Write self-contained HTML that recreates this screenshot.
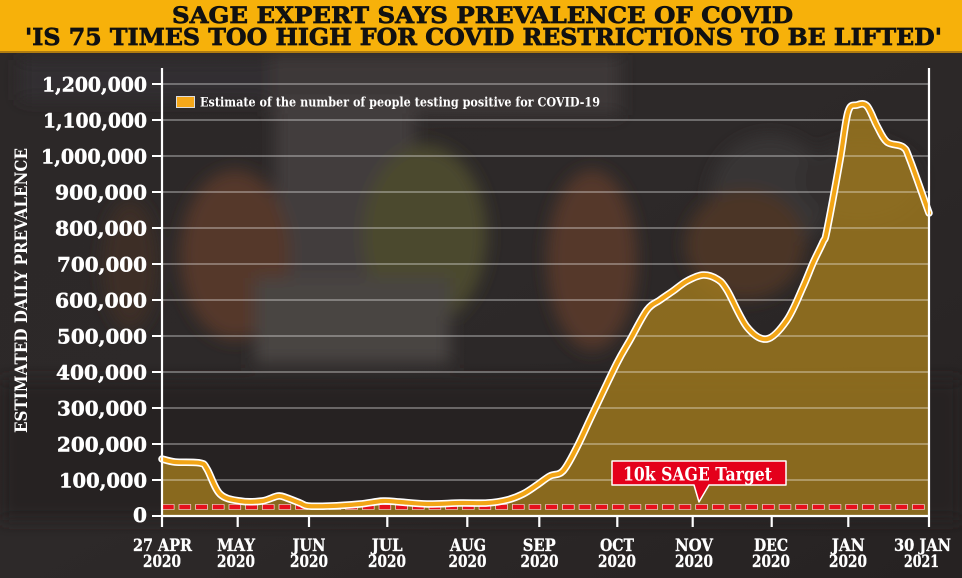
<!DOCTYPE html>
<html><head><meta charset="utf-8"><style>
html,body{margin:0;padding:0;background:#2a2626;}
svg{display:block;}
text{font-family:"DejaVu Serif","Liberation Serif",serif;font-weight:bold;}
</style></head><body>
<svg id="chart" width="962" height="578" viewBox="0 0 962 578" xmlns="http://www.w3.org/2000/svg">
<defs>
<filter id="b" x="-30%" y="-30%" width="160%" height="160%"><feGaussianBlur stdDeviation="8"/></filter>
<linearGradient id="bg" x1="0" y1="0" x2="1" y2="1">
<stop offset="0" stop-color="#2c2828"/><stop offset="0.5" stop-color="#2d2929"/><stop offset="1" stop-color="#262222"/>
</linearGradient>
</defs>
<rect x="0" y="0" width="962" height="578" fill="url(#bg)"/>
<g filter="url(#b)">
<rect x="270" y="55" width="350" height="60" fill="#3d3938"/>
<rect x="275" y="100" width="140" height="240" fill="#423e3c"/>
<rect x="20" y="60" width="250" height="40" fill="#332f30"/>
<ellipse cx="235" cy="255" rx="55" ry="85" fill="#55392a"/>
<ellipse cx="130" cy="265" rx="28" ry="65" fill="#3d2e25"/>
<ellipse cx="425" cy="235" rx="62" ry="90" fill="#4c4a2e"/>
<rect x="255" y="278" width="195" height="85" fill="#4a4542"/>
<ellipse cx="592" cy="260" rx="45" ry="90" fill="#55392a"/>
<ellipse cx="770" cy="195" rx="60" ry="60" fill="#373435"/>
<ellipse cx="745" cy="245" rx="60" ry="55" fill="#4c3628"/>
<ellipse cx="860" cy="180" rx="60" ry="40" fill="#312d2e"/>
<rect x="0" y="380" width="962" height="140" fill="#262222"/>
</g>
<rect x="0" y="0" width="962" height="51" fill="#f7b10a"/>
<rect x="0" y="51" width="962" height="2" fill="#b07c10"/>
<text x="172" y="23" font-size="22" fill="#111" stroke="#111" stroke-width="0.7" textLength="621" lengthAdjust="spacingAndGlyphs">SAGE EXPERT SAYS PREVALENCE OF COVID</text>
<text x="25" y="45" font-size="23" fill="#111" stroke="#111" stroke-width="0.7" textLength="917" lengthAdjust="spacingAndGlyphs">'IS 75 TIMES TOO HIGH FOR COVID RESTRICTIONS TO BE LIFTED'</text>
<path id="area" d="M162,459 L175,462 L200,463 L207,469 L220,494 L240,501 L262,501 L278,496 L287,498 L300,503 L308,506 L330,506 L360,504 L383,501 L400,502 L427,504 L460,503 L487,503 L507,500 L523,494 L537,485 L550,476 L563,471 L577,447 L593,413 L617,363 L630,340 L647,310 L660,300 L673,291 L687,281 L703,275 L717,279 L727,290 L747,327 L767,339 L787,320 L803,287 L813,263 L823,242 L827,230 L840,160 L848,112 L857,105 L867,106 L877,126 L887,142 L903,147 L910,160 L929,213 L929,516 L162,516 Z" fill="rgba(171,129,29,0.75)"/>
<g stroke="rgba(255,255,255,0.5)" stroke-width="1.2">
<line x1="162" y1="84" x2="929" y2="84"/><line x1="162" y1="120" x2="929" y2="120"/><line x1="162" y1="156" x2="929" y2="156"/><line x1="162" y1="192" x2="929" y2="192"/><line x1="162" y1="228" x2="929" y2="228"/><line x1="162" y1="264" x2="929" y2="264"/><line x1="162" y1="300" x2="929" y2="300"/><line x1="162" y1="336" x2="929" y2="336"/><line x1="162" y1="372" x2="929" y2="372"/><line x1="162" y1="408" x2="929" y2="408"/><line x1="162" y1="444" x2="929" y2="444"/><line x1="162" y1="480" x2="929" y2="480"/>
</g>
<g stroke="#fff" stroke-width="2">
<line x1="152" y1="84" x2="162" y2="84"/><line x1="152" y1="120" x2="162" y2="120"/><line x1="152" y1="156" x2="162" y2="156"/><line x1="152" y1="192" x2="162" y2="192"/><line x1="152" y1="228" x2="162" y2="228"/><line x1="152" y1="264" x2="162" y2="264"/><line x1="152" y1="300" x2="162" y2="300"/><line x1="152" y1="336" x2="162" y2="336"/><line x1="152" y1="372" x2="162" y2="372"/><line x1="152" y1="408" x2="162" y2="408"/><line x1="152" y1="444" x2="162" y2="444"/><line x1="152" y1="480" x2="162" y2="480"/><line x1="152" y1="516" x2="162" y2="516"/>
</g>
<line x1="162" y1="507" x2="929" y2="507" stroke="#fff" stroke-width="5.6" stroke-dasharray="12.4 4.27"/>
<line x1="162" y1="507" x2="929" y2="507" stroke="#e60f1c" stroke-width="4.4" stroke-dasharray="11.2 5.47" stroke-dashoffset="-0.6"/>
<polyline id="pw" fill="none" stroke="#fff" stroke-width="7.5" stroke-linejoin="round" stroke-linecap="round" points="162,459 175,462 200,463 207,469 220,494 240,501 262,501 278,496 287,498 300,503 308,506 330,506 360,504 383,501 400,502 427,504 460,503 487,503 507,500 523,494 537,485 550,476 563,471 577,447 593,413 617,363 630,340 647,310 660,300 673,291 687,281 703,275 717,279 727,290 747,327 767,339 787,320 803,287 813,263 823,242 827,230 840,160 848,112 857,105 867,106 877,126 887,142 903,147 910,160 929,213"/>
<polyline id="po" fill="none" stroke="#f2a516" stroke-width="4.2" stroke-linejoin="round" stroke-linecap="round" points="162,459 175,462 200,463 207,469 220,494 240,501 262,501 278,496 287,498 300,503 308,506 330,506 360,504 383,501 400,502 427,504 460,503 487,503 507,500 523,494 537,485 550,476 563,471 577,447 593,413 617,363 630,340 647,310 660,300 673,291 687,281 703,275 717,279 727,290 747,327 767,339 787,320 803,287 813,263 823,242 827,230 840,160 848,112 857,105 867,106 877,126 887,142 903,147 910,160 929,213"/>
<g stroke="#fff" stroke-width="2.2">
<line x1="162" y1="68" x2="162" y2="527"/>
<line x1="929" y1="68" x2="929" y2="527"/>
<line x1="162" y1="516" x2="929" y2="516"/>
<line x1="237.7" y1="516" x2="237.7" y2="527"/><line x1="309" y1="516" x2="309" y2="527"/><line x1="387.3" y1="516" x2="387.3" y2="527"/><line x1="467.3" y1="516" x2="467.3" y2="527"/><line x1="539.3" y1="516" x2="539.3" y2="527"/><line x1="617.3" y1="516" x2="617.3" y2="527"/><line x1="692.7" y1="516" x2="692.7" y2="527"/><line x1="771.7" y1="516" x2="771.7" y2="527"/><line x1="848.3" y1="516" x2="848.3" y2="527"/>
</g>
<path d="M612,461 L786,461 L786,485 L709,485 L699,502 L694,485 L612,485 Z" fill="#e4001b" stroke="#fff" stroke-width="1.5" stroke-linejoin="round"/>
<text x="623" y="480.5" font-size="19" fill="#fff" textLength="149" lengthAdjust="spacingAndGlyphs">10k SAGE Target</text>
<rect x="176.5" y="96.5" width="18" height="11" fill="#f5a81a" stroke="#ddd" stroke-width="1"/>
<text x="200" y="106.5" font-size="13" fill="#fff" textLength="400" lengthAdjust="spacingAndGlyphs">Estimate of the number of people testing positive for COVID-19</text>
<g font-size="20" fill="#fff" stroke="#fff" stroke-width="0.5">
<text x="42" y="91.5" textLength="105" lengthAdjust="spacingAndGlyphs">1,200,000</text>
<text x="43" y="127.5" textLength="104" lengthAdjust="spacingAndGlyphs">1,100,000</text>
<text x="41" y="163.5" textLength="106" lengthAdjust="spacingAndGlyphs">1,000,000</text>
<text x="55" y="199.5" textLength="92" lengthAdjust="spacingAndGlyphs">900,000</text>
<text x="55" y="235.5" textLength="92" lengthAdjust="spacingAndGlyphs">800,000</text>
<text x="57" y="271.5" textLength="90" lengthAdjust="spacingAndGlyphs">700,000</text>
<text x="55" y="307.5" textLength="92" lengthAdjust="spacingAndGlyphs">600,000</text>
<text x="57" y="343.5" textLength="90" lengthAdjust="spacingAndGlyphs">500,000</text>
<text x="56" y="379.5" textLength="91" lengthAdjust="spacingAndGlyphs">400,000</text>
<text x="57" y="415.5" textLength="90" lengthAdjust="spacingAndGlyphs">300,000</text>
<text x="57" y="451.5" textLength="90" lengthAdjust="spacingAndGlyphs">200,000</text>
<text x="59" y="487.5" textLength="88" lengthAdjust="spacingAndGlyphs">100,000</text>
<text x="133" y="522" textLength="14" lengthAdjust="spacingAndGlyphs">0</text>
</g>
<text transform="translate(27,290.5) rotate(-90)" x="-142.5" y="0" font-size="17" fill="#fff" textLength="285" lengthAdjust="spacingAndGlyphs">ESTIMATED  DAILY  PREVALENCE</text>
<g font-size="17" fill="#fff" stroke="#fff" stroke-width="0.3">
<text x="133" y="551" textLength="59" lengthAdjust="spacingAndGlyphs">27 APR</text>
<text x="143" y="567" textLength="38" lengthAdjust="spacingAndGlyphs">2020</text>
<text x="217" y="551" textLength="38" lengthAdjust="spacingAndGlyphs">MAY</text>
<text x="217" y="567" textLength="38" lengthAdjust="spacingAndGlyphs">2020</text>
<text x="292.5" y="551" textLength="33" lengthAdjust="spacingAndGlyphs">JUN</text>
<text x="290" y="567" textLength="38" lengthAdjust="spacingAndGlyphs">2020</text>
<text x="371.7" y="551" textLength="31" lengthAdjust="spacingAndGlyphs">JUL</text>
<text x="368" y="567" textLength="38" lengthAdjust="spacingAndGlyphs">2020</text>
<text x="450" y="551" textLength="36" lengthAdjust="spacingAndGlyphs">AUG</text>
<text x="448.5" y="567" textLength="38" lengthAdjust="spacingAndGlyphs">2020</text>
<text x="522.7" y="551" textLength="33" lengthAdjust="spacingAndGlyphs">SEP</text>
<text x="520.5" y="567" textLength="38" lengthAdjust="spacingAndGlyphs">2020</text>
<text x="600" y="551" textLength="34" lengthAdjust="spacingAndGlyphs">OCT</text>
<text x="598" y="567" textLength="38" lengthAdjust="spacingAndGlyphs">2020</text>
<text x="675" y="551" textLength="38" lengthAdjust="spacingAndGlyphs">NOV</text>
<text x="675" y="567" textLength="38" lengthAdjust="spacingAndGlyphs">2020</text>
<text x="754" y="551" textLength="34" lengthAdjust="spacingAndGlyphs">DEC</text>
<text x="752" y="567" textLength="38" lengthAdjust="spacingAndGlyphs">2020</text>
<text x="831.7" y="551" textLength="33" lengthAdjust="spacingAndGlyphs">JAN</text>
<text x="829" y="567" textLength="38" lengthAdjust="spacingAndGlyphs">2020</text>
<text x="894" y="551" textLength="57" lengthAdjust="spacingAndGlyphs">30 JAN</text>
<text x="904" y="567" textLength="35" lengthAdjust="spacingAndGlyphs">2021</text>
</g>
</svg>
<script>
(function(){
  try{
    var pl=document.getElementById('po');
    var raw=pl.getAttribute('points').trim().split(/\s+/).map(function(s){var a=s.split(',');return [parseFloat(a[0]),parseFloat(a[1])];});
    var d='M'+raw[0][0]+','+raw[0][1];
    for(var i=0;i<raw.length-1;i++){
      var p0=raw[Math.max(0,i-1)],p1=raw[i],p2=raw[i+1],p3=raw[Math.min(raw.length-1,i+2)];
      var t=0.5/3;
      var c1x=p1[0]+(p2[0]-p0[0])*t,c1y=p1[1]+(p2[1]-p0[1])*t;
      var c2x=p2[0]-(p3[0]-p1[0])*t,c2y=p2[1]-(p3[1]-p1[1])*t;
      d+=' C'+c1x.toFixed(1)+','+c1y.toFixed(1)+' '+c2x.toFixed(1)+','+c2y.toFixed(1)+' '+p2[0]+','+p2[1];
    }
    var ns='http://www.w3.org/2000/svg';
    ['pw','po'].forEach(function(id){
      var old=document.getElementById(id);
      var p=document.createElementNS(ns,'path');
      p.setAttribute('d',d);
      ['fill','stroke','stroke-width','stroke-linejoin','stroke-linecap'].forEach(function(a){p.setAttribute(a,old.getAttribute(a));});
      old.parentNode.replaceChild(p,old);
    });
    document.getElementById('area').setAttribute('d',d+' L929,516 L162,516 Z');
  }catch(e){}
})();
</script>
</body></html>
